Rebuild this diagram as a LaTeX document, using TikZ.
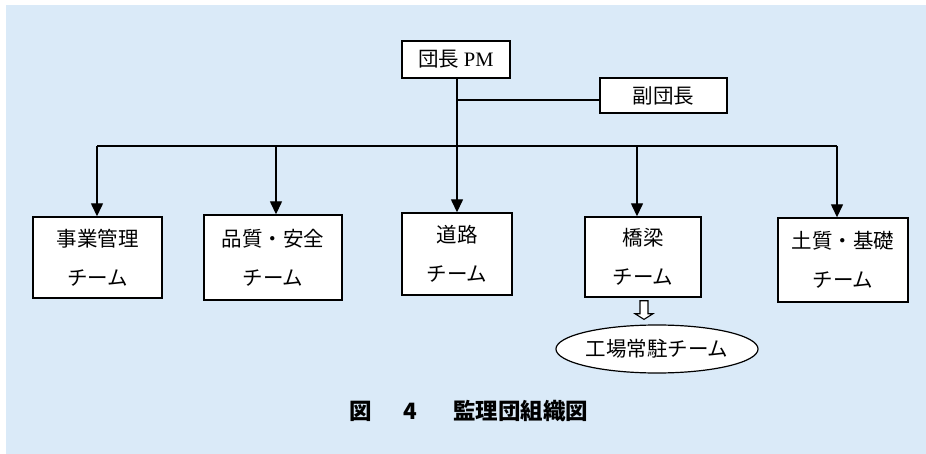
\documentclass[tikz,border=0pt]{standalone}
\usepackage{fontspec}
\setmainfont{Liberation Serif}
\newfontfamily\cjk{Noto Sans CJK JP}
\usetikzlibrary{arrows.meta,shapes.geometric,calc}
\definecolor{bgblue}{HTML}{DAEAF8}
\begin{document}
\begin{tikzpicture}[x=1pt,y=-1pt,
  box/.style={draw=black,line width=1.4pt,fill=white,inner sep=0pt,font=\fontsize{20.5}{39}\selectfont\cjk,align=center},
  conn/.style={line width=1.4pt},
  arr/.style={line width=1.4pt,-{Triangle[width=12pt,length=13pt]}},
  captext/.style={font=\fontsize{22.5}{24}\selectfont\cjk\bfseries,inner sep=0pt},
]
\useasboundingbox (0,0) rectangle (926,454);
\fill[bgblue] (6,5) rectangle (926,454);

\node[box,minimum width=108pt,minimum height=37pt] (pm) at (456,59.5) {団長 {\rmfamily PM}};
\node[box,minimum width=127pt,minimum height=35pt] (vice) at (663.5,95.5) {副団長};

\node[box,minimum width=129pt,minimum height=81pt] (t1) at (97.5,257.5) {事業管理\\チーム};
\node[box,minimum width=138pt,minimum height=85pt] (t2) at (273,257.5) {品質・安全\\チーム};
\node[box,minimum width=110pt,minimum height=82pt] (t3) at (457,254) {道路\\チーム};
\node[box,minimum width=116pt,minimum height=80pt] (t4) at (643,257) {橋梁\\チーム};
\node[box,minimum width=130pt,minimum height=84pt] (t5) at (843,260) {土質・基礎\\チーム};

\node[ellipse,draw=black,line width=1.2pt,fill=white,minimum width=202pt,minimum height=48pt,inner sep=0pt,font=\fontsize{20.5}{22}\selectfont\cjk] (fac) at (657,349) {工場常駐チーム};

\coordinate (bus) at (457,146);
\coordinate (vj) at (457,100);
\coordinate (b1) at (97,146);
\coordinate (b2) at (276,146);
\coordinate (b4) at (637,146);
\coordinate (b5) at (837,146);
\draw[conn] (pm.south -| bus) -- (bus);
\draw[conn] (vj) -- (vice.west |- vj);
\draw[conn] (b1) -- (b5);
\draw[arr] (b1) -- (b1 |- t1.north);
\draw[arr] (b2) -- (b2 |- t2.north);
\draw[arr] (bus) -- (bus |- t3.north);
\draw[arr] (b4) -- (b4 |- t4.north);
\draw[arr] (b5) -- (b5 |- t5.north);

% hollow block arrow from t4 to fac
\coordinate (ha) at (644,0);
\draw[line width=1.1pt,fill=white,line join=miter]
  ($(ha |- t4.south)+(-4,3)$) -- ++(0,13) -- ++(-5,0) -- ($(ha |- fac.north)+(0,-5)$)
  -- ($(ha |- t4.south)+(9,16)$) -- ++(-5,0) -- ++(0,-13) -- cycle;

\node[captext] (c1) at (361,411) {図};
\node[captext] (c2) at (410,411) {4};
\node[captext] (c3) at (520.5,411) {監理団組織図};
\end{tikzpicture}
\end{document}
